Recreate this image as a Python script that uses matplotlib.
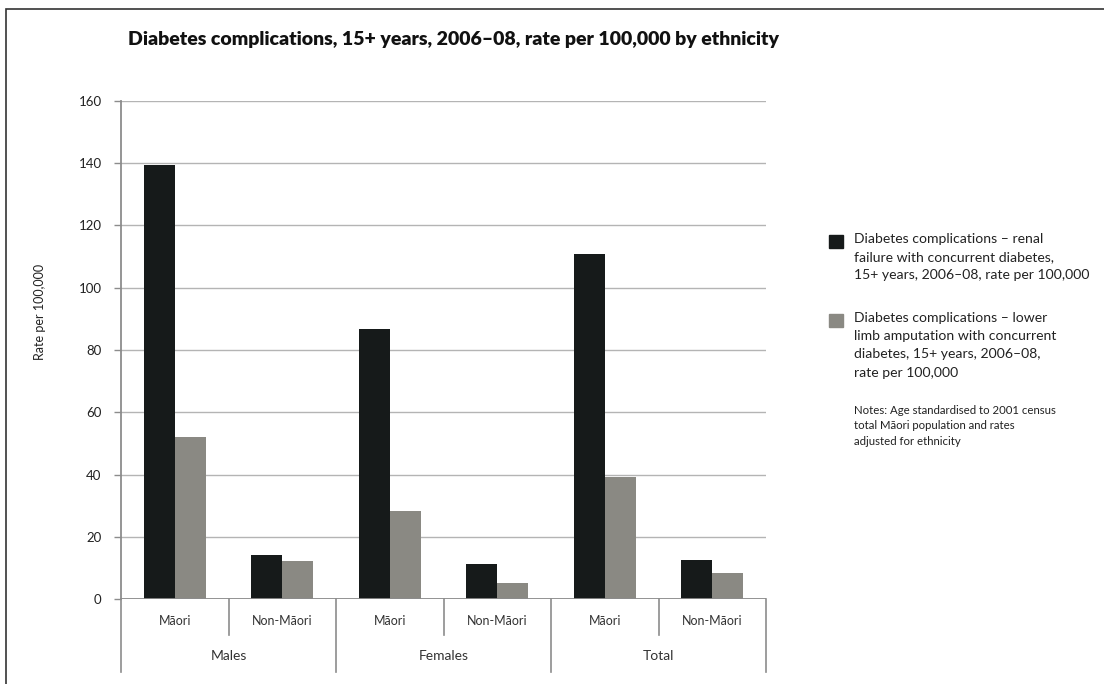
import matplotlib.pyplot as plt
from matplotlib.patches import Rectangle

plt.rcParams['font.family'] = ['Lato', 'DejaVu Sans']

ethnicity = ['Māori', 'Non-Māori', 'Māori', 'Non-Māori', 'Māori', 'Non-Māori']
groups = ['Males', 'Females', 'Total']
renal = [139.4, 14.0, 86.6, 11.4, 110.8, 12.6]
amputation = [52.0, 12.2, 28.2, 5.0, 39.3, 8.3]

renal_label = ('Diabetes complications – renal\nfailure with concurrent diabetes,\n'
               '15+ years, 2006–08, rate per 100,000')
amp_label = ('Diabetes complications – lower\nlimb amputation with concurrent\n'
             'diabetes, 15+ years, 2006–08,\nrate per 100,000')
note = ('Notes: Age standardised to 2001 census\ntotal Māori population and rates\n'
        'adjusted for ethnicity')

black = '#161a1a'
grey = '#8a8983'
line_grey = '#8c8c8c'

fig = plt.figure(figsize=(11.04, 6.84), dpi=100)
ax = fig.add_axes([121 / 1104, 85 / 684, 645 / 1104, 498 / 684])

# frame round the figure (top and left visible)
fig.patches.append(Rectangle((6 / 1104, -0.05), 1.2, (684 - 9) / 684 + 0.05,
                             transform=fig.transFigure, fill=False,
                             edgecolor='#333333', lw=1.2))

x = [i + 0.5 for i in range(len(ethnicity))]
w = 0.288
ax.bar([v - w / 2 for v in x], renal, width=w, color=black, zorder=3)
ax.bar([v + w / 2 for v in x], amputation, width=w, color=grey, zorder=3)

ax.set_xlim(0, 6)
ax.set_ylim(0, 160)
ax.set_yticks(range(0, 161, 20))
ax.tick_params(axis='y', length=5, width=1, color=line_grey, labelsize=9.5,
               labelcolor='#222222', pad=9)
ax.set_xticks([])
ax.grid(axis='y', color='#b4b4b4', lw=1, zorder=0)
for s in ['top', 'right', 'bottom']:
    ax.spines[s].set_visible(False)
ax.spines['left'].set_color(line_grey)
ax.spines['left'].set_linewidth(1.3)
ax.axhline(0, color=line_grey, lw=1.3, zorder=4)

tr = ax.get_xaxis_transform()
inner = -36 / 498
outer = -73 / 498
for i in range(7):
    y1 = outer if i % 2 == 0 else inner
    ax.plot([i, i], [0, y1], transform=tr, color=line_grey, lw=1.2, clip_on=False)
for i, lab in enumerate(ethnicity):
    ax.text(x[i], -22 / 498, lab, transform=tr, ha='center', va='center',
            fontsize=9, color='#333333')
for j, g in enumerate(groups):
    ax.text(2 * j + 1, -57 / 498, g, transform=tr, ha='center', va='center',
            fontsize=10, color='#333333')

ax.set_ylabel('Rate per 100,000', fontsize=9, color='#222222')
ax.yaxis.set_label_coords(-75 / 645, (599 - 312) / 498)

fig.text(128 / 1104, 1 - 40 / 684,
         'Diabetes complications, 15+ years, 2006–08, rate per 100,000 by ethnicity',
         fontsize=14, fontweight='heavy', color='#111111', va='center', ha='left')

# legend
fig.patches.append(Rectangle((829 / 1104, 1 - 248 / 684), 14 / 1104, 13 / 684,
                             transform=fig.transFigure, color=black))
fig.patches.append(Rectangle((829 / 1104, 1 - 327 / 684), 14 / 1104, 13 / 684,
                             transform=fig.transFigure, color=grey))
fig.text(854 / 1104, 1 - 233 / 684, renal_label, fontsize=10.1, va='top', ha='left',
         color='#222222', linespacing=1.62)
fig.text(854 / 1104, 1 - 312 / 684, amp_label, fontsize=10.1, va='top', ha='left',
         color='#222222', linespacing=1.62)
fig.text(854 / 1104, 1 - 405 / 684, note, fontsize=8.2, va='top', ha='left',
         color='#222222', linespacing=1.5)

plt.savefig('out.png', dpi=100)
